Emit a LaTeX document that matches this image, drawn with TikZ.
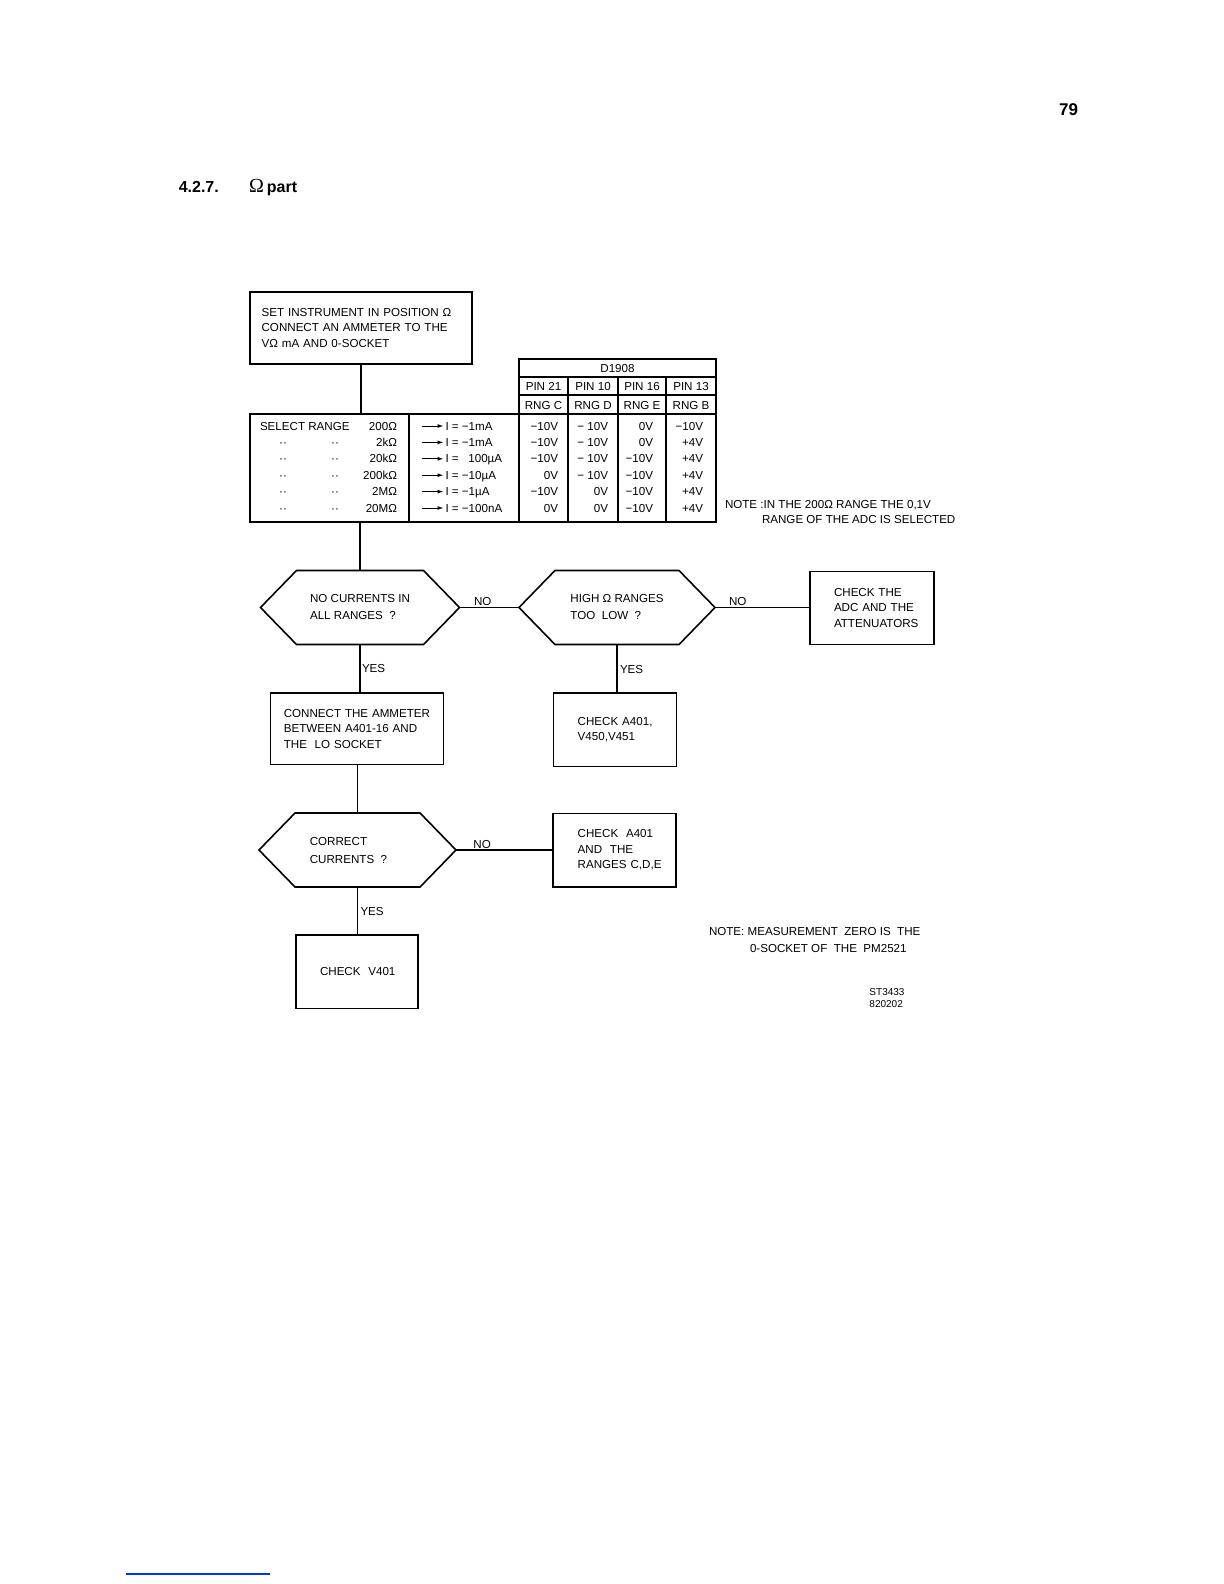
\documentclass[tikz,border=0pt]{standalone}
\usepackage{fontspec}
\setmainfont{Liberation Sans}
\newfontfamily\omegafont{Liberation Serif}
\usetikzlibrary{arrows.meta}
\newcommand\hexo[1]{\draw[ln] (#1.west) -- ([xshift=18pt]#1.north west) -- ([xshift=-18pt]#1.north east) -- (#1.east) -- ([xshift=-18pt]#1.south east) -- ([xshift=18pt]#1.south west) -- cycle;}
\begin{document}
\begin{tikzpicture}[x=0.5pt,y=-0.5pt,
 every node/.style={font=\fontsize{5.8}{7.8}\selectfont, inner sep=0pt, outer sep=0pt},
 ln/.style={line width=0.8pt},
 box/.style={draw, line width=0.8pt, anchor=north west, align=left},
 hexn/.style={minimum width=#1, minimum height=37pt, align=left, font=\fontsize{5.8}{8.5}\selectfont},
 capt/.style={text height=4.15pt, text depth=0pt},
 tarrow/.style={-{Latex[length=3pt,width=2pt]}, line width=0.5pt}
]
\fill[white] (0,0) rectangle (1224,1584);
\useasboundingbox (0,0) rectangle (1224,1584);

% page header
\node[font=\fontsize{8.5}{10}\selectfont\bfseries, text height=6.1pt, text depth=0pt] (pg) at (1068.5,109) {79};
\node[anchor=base west, font=\fontsize{8}{10}\selectfont\bfseries] (sec) at (178.8,192.4) {4.2.7.};
\node[anchor=base west, font=\fontsize{8}{10}\selectfont\bfseries] (secname) at (249,192.4) {{\omegafont\mdseries\fontsize{10}{12}\selectfont Ω}\hspace{1.5pt}part};

% top box
\node[box, minimum width=111pt, minimum height=36pt, inner xsep=5.8pt, text width=99.4pt] (b0) at (250,292)
 {SET~INSTRUMENT~IN~POSITION~Ω\\CONNECT~AN~AMMETER~TO~THE\\VΩ~mA~AND~0-SOCKET};

% D1908 header and main table
\node[draw, ln, anchor=north west, minimum width=98.5pt, minimum height=27.5pt] (hdr) at (519,359) {};
\node[draw, ln, anchor=north west, minimum width=233pt, minimum height=54pt] (tbl) at (250,414) {};
\draw[ln] (519,377) -- (716,377);
\draw[ln] (519,395) -- (716,395);
\foreach \xx in {568,618,666} { \draw[ln] (\xx,377) -- (\xx,522); }
\draw[ln] (409,414) -- (409,522);
\draw[ln] (519,414) -- (519,522);

\node[capt] (hd) at (617.5,368) {D1908};
\foreach \xx/\p/\g [count=\k] in {543.5/21/C, 593/10/D, 642/16/E, 691/13/B} {
 \node[capt] (pin\k) at (\xx,386) {PIN \p};
 \node[capt] (rng\k) at (\xx,405) {RNG \g};
}

\node[capt, anchor=west] (sel) at (260,426) {SELECT RANGE};
\foreach \rv/\cu/\va/\vb/\vc/\vd [count=\i from 0] in {
 200Ω/I = −1mA/−10V/− 10V/0V/−10V,
 2kΩ/I = −1mA/−10V/− 10V/0V/+4V,
 20kΩ/I =~~~100µA/−10V/− 10V/−10V/+4V,
 200kΩ/I = −10µA/0V/− 10V/−10V/+4V,
 2MΩ/I = −1µA/−10V/0V/−10V/+4V,
 20MΩ/I = −100nA/0V/0V/−10V/+4V}
{
 \pgfmathsetmacro\yy{426+16.4*\i}
 \node[capt, anchor=east] (rv\i) at (397,\yy) {\rv};
 \ifnum\i>0
  \node[capt] (da\i) at (283,\yy) {··};
  \node[capt] (db\i) at (335,\yy) {··};
 \fi
 \coordinate (as\i) at (421.7,\yy);
 \coordinate (ae\i) at (443.5,\yy);
 \draw[tarrow] (as\i) -- (ae\i);
 \node[capt, anchor=west] (cu\i) at (445.5,\yy) {\cu};
 \node[capt, anchor=east] (va\i) at (558,\yy) {\va};
 \node[capt, anchor=east] (vb\i) at (608,\yy) {\vb};
 \node[capt, anchor=east] (vc\i) at (653,\yy) {\vc};
 \node[capt, anchor=east] (vd\i) at (703,\yy) {\vd};
}

\node[anchor=west, align=left, font=\fontsize{5.8}{7.3}\selectfont] (note1) at (725,512)
 {NOTE~:IN~THE~200Ω~RANGE~THE~0,1V\\\hspace*{18.5pt}RANGE~OF~THE~ADC~IS~SELECTED};

% decisions
\node[hexn=99.5pt] (h1) at (360,607.5) {NO~CURRENTS~IN\\ALL~RANGES~~?};
\hexo{h1}
\node[hexn=98pt] (h2) at (617,607.5) {HIGH~Ω~RANGES\\TOO~~LOW~~?};
\hexo{h2}
\node[hexn=98.5pt, font=\fontsize{5.8}{9}\selectfont] (h3) at (357.5,850) {CORRECT\\CURRENTS~~?\hspace*{9pt}};
\hexo{h3}

% action boxes
\node[box, minimum width=62pt, minimum height=36.35pt, inner xsep=12pt, text width=38pt] (bchk) at (810,571.6)
 {CHECK~THE\\ADC~AND~THE\\ATTENUATORS};
\node[box, minimum width=86.35pt, minimum height=35.85pt, inner xsep=6.6pt, text width=73.15pt] (bconn) at (270.6,692.8)
 {CONNECT~THE~AMMETER\\BETWEEN~A401-16~AND\\THE~~LO~SOCKET};
\node[box, minimum width=61.6pt, minimum height=36.85pt, inner xsep=12.15pt, text width=37.3pt] (ba401) at (553.4,692.8)
 {CHECK~A401,\\V450,V451};
\node[box, minimum width=61.65pt, minimum height=36.7pt, inner xsep=12.5pt, text width=36.65pt] (ba401b) at (552.7,813.3)
 {CHECK~~A401\\AND~~THE\\RANGES~C,D,E};
\node[box, minimum width=61pt, minimum height=36.65pt, inner xsep=12.15pt, text width=36.7pt] (bv401) at (295.7,935)
 {CHECK~~V401};

% connectors
\draw[ln] (b0.south) -- (b0.south |- tbl.north);
\draw[ln] (tbl.south -| h1.north) -- (h1.north);
\draw[ln] (h1.east) -- node[pos=0.39, above=0.8pt, capt]{NO} (h2.west);
\draw[ln] (h2.east) -- node[pos=0.24, above=0.8pt, capt]{NO} (bchk.west |- h2.east);
\draw[ln] (h1.south) -- node[pos=0.5, right=1pt, capt]{YES} (h1.south |- bconn.north);
\draw[ln] (h2.south) -- node[pos=0.52, right=1.5pt, capt]{YES} (h2.south |- ba401.north);
\draw[ln] (bconn.south -| h3.north) -- (h3.north);
\draw[ln] (h3.east) -- node[pos=0.27, above=0.8pt, capt]{NO} (ba401b.west |- h3.east);
\draw[ln] (h3.south) -- node[pos=0.5, right=1.5pt, capt]{YES} (h3.south |- bv401.north);

% notes
\node[anchor=west, align=left, font=\fontsize{5.8}{8.5}\selectfont] (note2) at (709,940)
 {NOTE:~MEASUREMENT~~ZERO~IS~~THE\\\hspace*{20.5pt}0-SOCKET~OF~~THE~~PM2521};
\node[align=left, font=\fontsize{5}{5.65}\selectfont] (code) at (887,998) {ST3433\\820202};

% stray blue rule at page foot
\coordinate (bl1) at (126,1574);
\coordinate (bl2) at (270,1574);
\draw[blue!80!cyan, line width=0.6pt] (bl1) -- (bl2);
\end{tikzpicture}
\end{document}
